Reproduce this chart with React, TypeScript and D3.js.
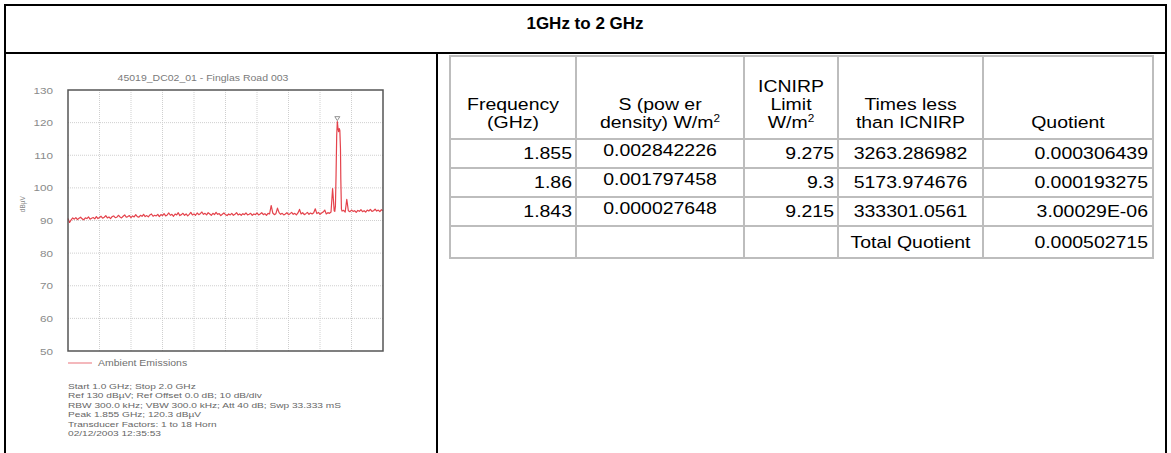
import React, { useEffect, useRef } from 'react';
import * as d3 from 'd3';

// Spectrum trace (dBuV). Sweep 1.0 - 2.0 GHz.
const sweepStart = 1.0;
const sweepStep = 0.005;
// noise floor, 1.000 .. 1.845 GHz
const lowFloor = [
    90.6, 89.4, 90.2, 90.8, 90.4, 90.9, 90.3, 90.7, 91.0, 90.5, 90.2, 90.8, 90.6, 91.1, 90.4, 90.7, 90.9, 90.5, 91.2, 90.6,
    90.9, 91.3, 90.7, 91.0, 91.5, 90.8, 91.1, 90.6, 91.2, 91.4, 90.9, 91.0, 91.6, 91.1, 90.8, 91.3, 91.7, 91.0, 91.2, 91.5,
    90.9, 91.4, 91.1, 91.8, 91.2, 91.0, 91.6, 91.3, 91.9, 91.2, 91.5, 91.1, 91.7, 92.0, 91.3, 91.6, 91.4, 91.9, 91.2, 91.8,
    91.5, 92.1, 91.4, 91.7, 92.3, 91.6, 91.9, 91.3, 92.0, 91.7, 92.4, 91.5, 91.8, 92.2, 91.6, 92.0, 91.4, 91.9, 92.5, 91.7,
    92.0, 91.6, 92.3, 91.8, 92.1, 92.6, 91.9, 92.2, 91.7, 92.4, 92.0, 91.6, 92.2, 91.8, 92.5, 91.9, 92.1, 91.5, 91.9, 92.3,
    91.8, 91.5, 92.0, 91.7, 92.2, 91.6, 91.9, 92.4, 91.7, 92.0, 91.6, 92.1, 91.8, 92.3, 91.7, 91.9, 92.2, 91.6, 92.0, 91.8,
    92.3, 91.7, 92.0, 92.4, 91.8, 92.1, 91.6, 92.2, 92.0, 94.6, 92.3, 91.8, 92.1, 93.8, 92.4, 91.9, 92.2, 91.7, 92.0, 92.4,
    91.8, 92.1, 92.5, 91.9, 92.2, 91.7, 92.3, 93.4, 92.0, 92.4, 91.8, 92.1, 92.5, 91.9, 92.3, 92.0, 92.4, 93.6, 92.1, 92.5,
    91.9, 92.3, 92.6, 93.2, 92.0, 92.4, 92.2, 92.6, 99.8, 93.0
];
// signal around the peak: [GHz, dBuV]
const peakTrace = [
    [1.847, 92.8], [1.849, 94.5], [1.851, 104], [1.853, 116], [1.855, 120.3], [1.857, 118.4],
    [1.859, 117.2], [1.861, 118.2], [1.863, 117.6], [1.865, 112], [1.866, 103], [1.868, 93.5]
];
// noise floor, 1.870 .. 2.000 GHz
const highStart = 1.87;
const highFloor = [
    92.9, 93.1, 92.6, 96.5, 93.0, 92.7, 93.2, 92.8, 93.0, 92.5, 93.1, 92.8, 93.3, 92.7,
    93.0, 92.6, 93.2, 92.9, 93.4, 92.8, 93.0, 93.5, 92.9, 93.2, 92.7, 93.3, 93.0
];
const peakMarker = [1.855, 120.3];
const yTicks = [130, 120, 110, 100, 90, 80, 70, 60, 50];

const plotTitle = '45019_DC02_01 - Finglas Road 003';
const legendLabel = 'Ambient Emissions';
const infoLines = [
    'Start 1.0 GHz; Stop 2.0 GHz',
    'Ref 130 dB\u00b5V; Ref Offset 0.0 dB; 10 dB/div',
    'RBW 300.0 kHz; VBW 300.0 kHz; Att 40 dB; Swp 33.333 mS',
    'Peak 1.855 GHz; 120.3 dB\u00b5V',
    'Transducer Factors: 1 to 18 Horn',
    '02/12/2003 12:35:53'
];

// Table
const frequencies = ['1.855', '1.86', '1.843'];
const powerDensity = ['0.002842226', '0.001797458', '0.000027648'];
const icnirpLimit = ['9.275', '9.3', '9.215'];
const timesLess = ['3263.286982', '5173.974676', '333301.0561'];
const quotients = ['0.000306439', '0.000193275', '3.00029E-06'];
const totalLabel = 'Total Quotient';
const totalQuotient = '0.000502715';

const FONT = 'Liberation Sans, Arial, sans-serif';

const App = () => {
    const svgRef = useRef(null);

    useEffect(() => {
        const svg = d3.select(svgRef.current);
        svg.selectAll('*').remove();

        const W = 1171;
        const H = 453;
        svg.attr('width', W).attr('height', H);

        // text that is a little wider than it is tall, like the scanned report
        const wideText = (parent, tx, ty, t, anchor, sx, size, fill = '#000') =>
            parent.append('text')
                .attr('transform', `translate(${tx},${ty}) scale(${sx},1)`)
                .attr('text-anchor', anchor)
                .style('font-size', size + 'px')
                .style('fill', fill)
                .text(t);

        // outer frame
        const frame = svg.append('g')
            .style('stroke', '#000')
            .style('stroke-width', 2)
            .style('fill', 'none');
        frame.append('rect').attr('x', 5).attr('y', 5).attr('width', 1161).attr('height', 470);
        frame.append('line').attr('x1', 5).attr('x2', 1166).attr('y1', 53).attr('y2', 53);
        frame.append('line').attr('x1', 437).attr('x2', 437).attr('y1', 53).attr('y2', 470);

        svg.append('text')
            .attr('x', 585)
            .attr('y', 29)
            .attr('text-anchor', 'middle')
            .text('1GHz to 2 GHz')
            .style('font-family', FONT)
            .style('font-size', '17px')
            .style('font-weight', 'bold');

        // ---- spectrum plot ----
        const plot = { left: 68, right: 383, top: 90, bottom: 351 };
        const x = d3.scaleLinear().domain([1.0, 2.0]).range([plot.left, plot.right]);
        const y = d3.scaleLinear().domain([50, 130]).range([plot.bottom, plot.top]);
        const g = svg.append('g').style('font-family', FONT);

        // grid
        d3.range(1.1, 1.95, 0.1).forEach(f => {
            g.append('line')
                .attr('x1', x(f)).attr('x2', x(f))
                .attr('y1', plot.top).attr('y2', plot.bottom)
                .style('stroke', '#cfcfcf')
                .style('stroke-width', 1)
                .style('stroke-dasharray', '1,1');
        });
        yTicks.slice(1, -1).forEach(v => {
            g.append('line')
                .attr('x1', plot.left).attr('x2', plot.right)
                .attr('y1', y(v)).attr('y2', y(v))
                .style('stroke', '#cfcfcf')
                .style('stroke-width', 1)
                .style('stroke-dasharray', '1,1');
        });

        yTicks.forEach(v => {
            wideText(g, 53, y(v) + 3.5, String(v), 'end', 1.3, 9, '#8a8a8a');
        });

        g.append('text')
            .attr('transform', `translate(25, ${y(95)}) rotate(-90)`)
            .attr('text-anchor', 'middle')
            .text('dB\u00b5V')
            .style('font-size', '6.5px')
            .style('fill', '#8a8a8a');

        wideText(g, 203, 81, plotTitle, 'middle', 1.28, 8.2, '#7a7a7a');

        // trace
        const trace = [
            ...lowFloor.map((v, i) => [sweepStart + i * sweepStep, v]),
            ...peakTrace,
            ...highFloor.map((v, i) => [highStart + i * sweepStep, v])
        ];
        const line = d3.line()
            .x(d => x(d[0]))
            .y(d => y(d[1]));
        g.append('path')
            .datum(trace)
            .attr('d', line)
            .style('fill', 'none')
            .style('stroke', '#e4434c')
            .style('stroke-width', 1.2)
            .style('stroke-linejoin', 'round');

        // peak marker
        const mx = x(peakMarker[0]);
        const my = y(peakMarker[1]) - 1;
        g.append('path')
            .attr('d', `M${mx - 2.5},${my - 4}L${mx + 2.5},${my - 4}L${mx},${my}Z`)
            .style('fill', 'none')
            .style('stroke', '#777')
            .style('stroke-width', 0.8);

        // plot border
        g.append('rect')
            .attr('x', plot.left).attr('y', plot.top)
            .attr('width', plot.right - plot.left).attr('height', plot.bottom - plot.top)
            .style('fill', 'none')
            .style('stroke', '#555')
            .style('stroke-width', 1.5);

        // legend
        g.append('line')
            .attr('x1', 68).attr('x2', 92).attr('y1', 363).attr('y2', 363)
            .style('stroke', '#f0a0a6')
            .style('stroke-width', 1.5);
        wideText(g, 98, 366, legendLabel, 'start', 1.28, 8.2, '#707070');

        infoLines.forEach((t, i) => {
            wideText(g, 68, 389 + i * 9.4, t, 'start', 1.3, 7.8, '#666');
        });

        // ---- table ----
        const cols = [450, 576, 744, 838, 983, 1153];
        const rows = [56, 139, 168, 197, 226, 258];
        const tg = svg.append('g').style('font-family', FONT);

        cols.forEach(cx => {
            tg.append('line')
                .attr('x1', cx).attr('x2', cx).attr('y1', rows[0]).attr('y2', rows[rows.length - 1])
                .style('stroke', '#bdbdbd').style('stroke-width', 2);
        });
        rows.forEach(ry => {
            tg.append('line')
                .attr('x1', cols[0] - 1).attr('x2', cols[cols.length - 1] + 1).attr('y1', ry).attr('y2', ry)
                .style('stroke', '#bdbdbd').style('stroke-width', 2);
        });

        const SX = 1.18;
        const FS = 16.5;
        const mid = (i: number) => (cols[i] + cols[i + 1]) / 2;
        const addText = (tx: number, ty: number, t: string, anchor: string) =>
            wideText(tg, tx, ty, t, anchor, SX, FS);
        const sup = (sel) => sel.append('tspan').attr('dy', -6).style('font-size', '10px').text('2');

        // header
        addText(mid(0), 110, 'Frequency', 'middle');
        addText(mid(0), 128, '(GHz)', 'middle');
        addText(mid(1), 110, 'S (pow er', 'middle');
        sup(addText(mid(1), 128, 'density) W/m', 'middle'));
        addText(mid(2), 92, 'ICNIRP', 'middle');
        addText(mid(2), 110, 'Limit', 'middle');
        sup(addText(mid(2), 128, 'W/m', 'middle'));
        addText(mid(3), 110, 'Times less', 'middle');
        addText(mid(3), 128, 'than ICNIRP', 'middle');
        addText(mid(4), 128, 'Quotient', 'middle');

        frequencies.forEach((f, i) => {
            const base = rows[i + 1] + 20;
            addText(cols[1] - 4, base, f, 'end');
            addText(mid(1), base - 3, powerDensity[i], 'middle');
            addText(cols[3] - 4, base, icnirpLimit[i], 'end');
            addText(mid(3), base, timesLess[i], 'middle');
            addText(cols[5] - 5, base, quotients[i], 'end');
        });
        addText(mid(3), rows[4] + 22, totalLabel, 'middle');
        addText(cols[5] - 5, rows[4] + 22, totalQuotient, 'end');
    }, []);

    return (
        <svg ref={svgRef} style={{ position: 'absolute', left: 0, top: 0, background: '#fff' }}></svg>
    );
};

export default App;
